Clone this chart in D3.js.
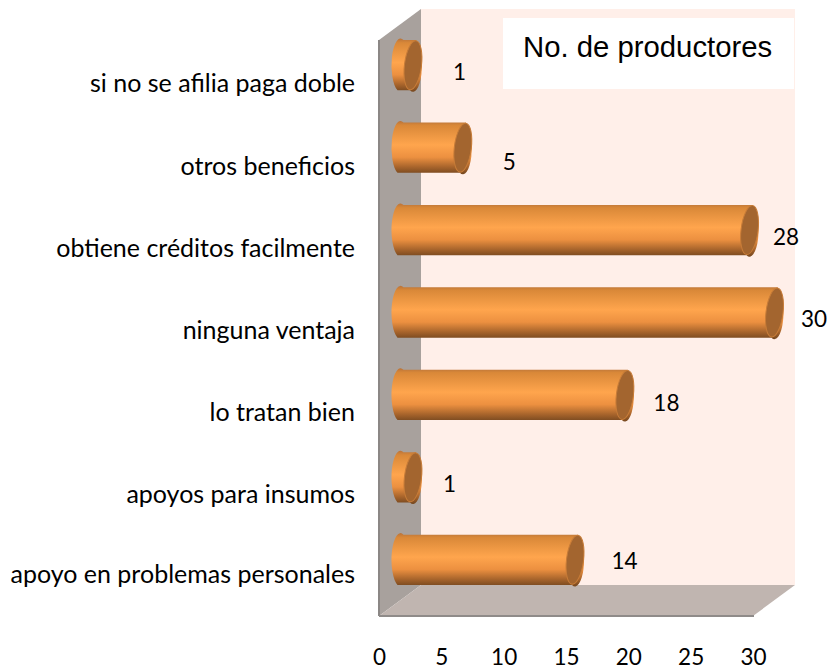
<!DOCTYPE html>
<html>
<head>
<meta charset="utf-8">
<script src="https://cdn.jsdelivr.net/npm/d3@7"></script>
<style>
	html, body { margin: 0; padding: 0; background: #fff; }
	svg { display: block; }
</style>
</head>
<body>
<div id="chart"></div>
<script>
var categories = ["si no se afilia paga doble", "otros beneficios", "obtiene créditos facilmente", "ninguna ventaja", "lo tratan bien", "apoyos para insumos", "apoyo en problemas personales"];
var values = [1, 5, 28, 30, 18, 1, 14];
var xTicks = [0, 5, 10, 15, 20, 25, 30];
var legendTitle = "No. de productores";

// hand placed labels in the original, offset from the bar end / bar centre
var labelDx = [38, 38, 28, 31, 33, 28, 41];
var labelDy = [7, 14, 7, 7, 8, 7, 1];
var catDy = [27, 27, 27, 26, 26, 26, 23];

var svg = d3.select("#chart").append("svg")
	.attr("width", 828)
	.attr("height", 669);

var x = d3.scaleLinear().domain([0, 30]).range([379, 753]);
var y = d3.scaleBand().domain(categories).range([24, 601]).paddingInner(0.39).paddingOuter(0.195);

var depthX = 42, depthY = 31;
var floorY = 616, topY = 40;
var x0 = x(0), x1 = x(30);

var defs = svg.append("defs");
var grad = defs.append("linearGradient")
	.attr("id", "barGrad")
	.attr("x1", 0).attr("y1", 0).attr("x2", 0).attr("y2", 1);
[[0, "#b8733a"], [0.08, "#d98838"], [0.45, "#ffa54d"], [0.68, "#ec9040"], [0.86, "#a9652c"], [1, "#75471f"]].forEach(function(s){
	grad.append("stop").attr("offset", s[0]).attr("stop-color", s[1]);
});

// back wall
svg.append("rect")
	.attr("x", x0 + depthX).attr("y", topY - depthY)
	.attr("width", x1 - x0).attr("height", floorY - topY)
	.attr("fill", "#ffefe9");

// side wall
svg.append("path")
	.attr("d", d3.line()([[x0, topY], [x0 + depthX, topY - depthY], [x0 + depthX, floorY - depthY], [x0, floorY]]) + "Z")
	.attr("fill", "#a8a19d");
svg.append("path")
	.attr("d", d3.line()([[x0, topY], [x0, floorY]]))
	.attr("stroke", "#8b8785").attr("stroke-width", 2).attr("fill", "none");

// floor
svg.append("path")
	.attr("d", d3.line()([[x0, floorY], [x0 + depthX, floorY - depthY], [x1 + depthX, floorY - depthY], [x1, floorY]]) + "Z")
	.attr("fill", "#c0b5b0");
svg.append("path")
	.attr("d", d3.line()([[x0, floorY], [x1 + 1, floorY]]))
	.attr("stroke", "#8f8b89").attr("stroke-width", 2).attr("fill", "none");

// legend box
svg.append("rect")
	.attr("x", 503).attr("y", 18)
	.attr("width", 291).attr("height", 71)
	.attr("fill", "#fff");
svg.append("text")
	.attr("x", 523).attr("y", 57)
	.attr("font-family", "'Liberation Sans', Arial, sans-serif")
	.attr("font-size", 29.3)
	.attr("fill", "#000")
	.text(legendTitle);

var rx = 8.5, tilt = 3, barShift = 21.5;

var rows = categories.map(function(c, i){
	return { name: c, value: values[i], dx: labelDx[i], dy: labelDy[i], catDy: catDy[i] };
});

var bars = svg.selectAll(".bar")
	.data(rows)
	.enter()
	.append("g")
	.attr("class", "bar");

bars.append("path")
	.attr("d", function(d){
		var top = y(d.name), bot = top + y.bandwidth();
		var ry = y.bandwidth() / 2;
		var xl = x0 + barShift, xr = x(d.value) + barShift;
		return "M" + (xl + tilt) + "," + top
			+ "L" + (xr + tilt) + "," + top
			+ "A" + rx + "," + ry + " 0 0 1 " + (xr - tilt) + "," + bot
			+ "L" + (xl - tilt) + "," + bot
			+ "A" + rx + "," + ry + " 0 0 1 " + (xl + tilt) + "," + top + "Z";
	})
	.attr("fill", "url(#barGrad)");

bars.append("ellipse")
	.attr("cx", 0).attr("cy", 0)
	.attr("rx", rx)
	.attr("ry", function(){ return y.bandwidth() / 2 - 0.5; })
	.attr("transform", function(d){
		return "translate(" + (x(d.value) + barShift) + "," + (y(d.name) + y.bandwidth() / 2) + ") rotate(7)";
	})
	.attr("fill", "#a3652f")
	.attr("stroke", "#c77c38")
	.attr("stroke-width", 1);

bars.append("text")
	.attr("x", function(d){ return x(d.value) + barShift + rx + d.dx; })
	.attr("y", function(d){ return y(d.name) + y.bandwidth() / 2 + d.dy; })
	.attr("dy", "0.35em")
	.attr("text-anchor", "middle")
	.attr("font-family", "Lato, Carlito, sans-serif")
	.attr("font-size", 22.5)
	.attr("fill", "#000")
	.text(function(d){ return d.value; });

// category labels
svg.selectAll(".cat")
	.data(rows)
	.enter()
	.append("text")
	.attr("class", "cat")
	.attr("x", 355)
	.attr("y", function(d){ return y(d.name) + y.bandwidth() / 2 + d.catDy; })
	.attr("text-anchor", "end")
	.attr("font-family", "Lato, Carlito, sans-serif")
	.attr("font-size", 25)
	.attr("fill", "#000")
	.text(function(d){ return d.name; });

// x axis
var axis = svg.append("g")
	.attr("transform", "translate(0,645)")
	.call(d3.axisBottom(x).tickValues(xTicks).tickSize(0).tickPadding(0));
axis.select(".domain").remove();
axis.selectAll("text")
	.attr("dy", "0.9em")
	.attr("font-family", "Lato, Carlito, sans-serif")
	.attr("font-size", 22.5)
	.attr("fill", "#000");
</script>
</body>
</html>
